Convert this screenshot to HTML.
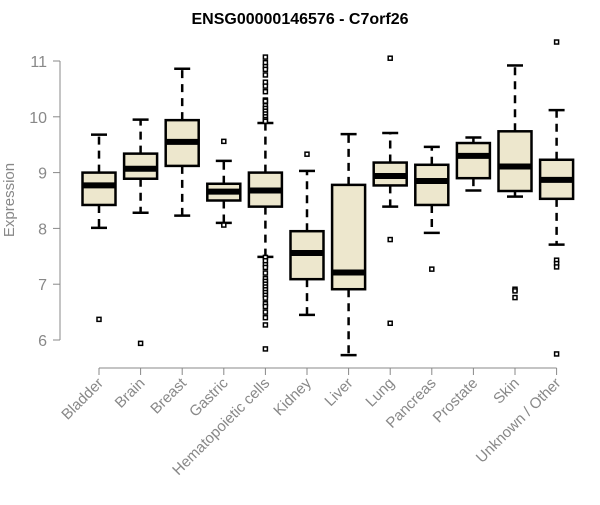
<!DOCTYPE html>
<html><head><meta charset="utf-8"><style>
body{margin:0;background:#fff;}
svg text{font-family:"Liberation Sans",Arial,sans-serif;}
</style></head><body>
<svg id="chart" width="600" height="500">
<text x="300" y="24" text-anchor="middle" font-weight="bold" font-size="16">ENSG00000146576 - C7orf26</text>
<text transform="translate(14,200) rotate(-90)" text-anchor="middle" font-size="15" fill="#888">Expression</text>
<g id="plot"></g>
</svg>
<script>
const categories=["Bladder","Brain","Breast","Gastric","Hematopoietic cells","Kidney","Liver","Lung","Pancreas","Prostate","Skin","Unknown / Other"];
const whiskerLow=[8.01,8.28,8.23,8.10,7.49,6.45,5.73,8.39,7.92,8.68,8.57,7.71];
const q1=[8.42,8.89,9.12,8.50,8.39,7.09,6.91,8.77,8.42,8.90,8.67,8.53];
const medians=[8.77,9.07,9.55,8.66,8.68,7.56,7.21,8.94,8.85,9.30,9.11,8.87];
const q3=[9.00,9.34,9.94,8.80,9.00,7.95,8.78,9.18,9.14,9.53,9.74,9.23];
const whiskerHigh=[9.68,9.95,10.86,9.21,9.89,9.03,9.69,9.71,9.46,9.63,10.92,10.12];
const outliers=[[6.37],[5.94],[],[9.56,8.06],
[11.07,10.97,10.9,10.85,10.75,10.62,10.55,10.45,10.3,10.28,10.2,10.15,10.1,10.05,10.0,9.95,9.92,7.48,7.42,7.35,7.3,7.2,7.1,7.05,7.0,6.95,6.9,6.85,6.8,6.75,6.65,6.6,6.5,6.4,6.27,5.84],
[9.33],[],[11.05,7.80,6.30],[7.27],[],[6.91,6.88,6.76],[11.34,7.43,7.37,7.31,5.75]];
const yTicks=[6,7,8,9,10,11];
const NS="http://www.w3.org/2000/svg";
const y=v=>340-(v-6)*55.8;
const x=i=>99+i*41.6;
const g=document.getElementById('plot');
function el(t,a,p){const e=document.createElementNS(NS,t);for(const k in a)e.setAttribute(k,a[k]);(p||g).appendChild(e);return e;}
const ya=el('line',{x1:60,x2:60,y1:y(6),y2:y(11),stroke:'#888'});


yTicks.forEach(t=>{
 const tl=el('line',{x1:53,x2:60,y1:y(t),y2:y(t),stroke:'#888'});
 
 
 const tx=el('text',{x:47,y:y(t)+6,'text-anchor':'end','font-size':16,fill:'#888'});
 tx.textContent=t;
 
 
});
const xa=el('line',{x1:x(0),x2:x(11),y1:368,y2:368,stroke:'#888'});


categories.forEach((c,i)=>{
 const cx=x(i),hw=16.5;
 const tk=el('line',{x1:cx,x2:cx,y1:368,y2:375,stroke:'#888'});
 
 
 const lb=el('text',{'text-anchor':'end','font-size':15,fill:'#888',transform:`translate(${cx+5},${384}) rotate(-45)`});
 lb.textContent=c;
 
 
 const bg=el('g',{});
 
 
 el('line',{x1:cx,x2:cx,y1:y(q3[i]),y2:y(whiskerHigh[i]),stroke:'#000','stroke-width':2.5,'stroke-dasharray':'8,6'},bg);
 el('line',{x1:cx,x2:cx,y1:y(q1[i]),y2:y(whiskerLow[i]),stroke:'#000','stroke-width':2.5,'stroke-dasharray':'8,6'},bg);
 el('line',{x1:cx-8,x2:cx+8,y1:y(whiskerHigh[i]),y2:y(whiskerHigh[i]),stroke:'#000','stroke-width':2.5},bg);
 el('line',{x1:cx-8,x2:cx+8,y1:y(whiskerLow[i]),y2:y(whiskerLow[i]),stroke:'#000','stroke-width':2.5},bg);
 el('rect',{x:cx-hw,y:y(q3[i]),width:hw*2,height:y(q1[i])-y(q3[i]),fill:'#ede7cd',stroke:'#000','stroke-width':2.5},bg);
 el('line',{x1:cx-hw,x2:cx+hw,y1:y(medians[i]),y2:y(medians[i]),stroke:'#000','stroke-width':6},bg);
 outliers[i].forEach(o=>{
  const p=el('rect',{x:cx-2,y:y(o)-2,width:4,height:4,fill:'#fff',stroke:'#000','stroke-width':1.5},bg);
  
  
 });
});
</script>
</body></html>
